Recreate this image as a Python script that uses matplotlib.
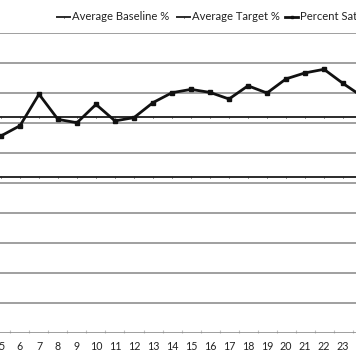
import matplotlib
matplotlib.use("Agg")
import matplotlib.pyplot as plt
from matplotlib.lines import Line2D

plt.rcParams['font.family'] = ['Lato', 'DejaVu Sans']

categories = list(range(5, 25))
percent_sat = [65.8, 69.2, 79.7, 71.3, 70.2, 76.3, 70.8, 71.9, 76.9, 80.2,
               81.3, 80.3, 78.1, 82.5, 80.1, 84.8, 86.8, 88.0, 83.3, 79.0]
avg_baseline = 52.2
avg_target = 72.0
legend_labels = ["Average Baseline %", "Average Target %", "Percent Satisfied"]

W, H = 356, 364
fig = plt.figure(figsize=(W / 100, H / 100), dpi=100)
# y: 0 at px 333.3, 100 at px 33.3 (from top)
ax = fig.add_axes([0, (H - 333.3) / H, 1, 300 / H])

ax.set_yticks(range(0, 101, 10))
ax.yaxis.grid(True, color='#858585', linewidth=1.1)
ax.set_axisbelow(True)
for s in ax.spines.values():
    s.set_visible(False)
ax.tick_params(axis='y', left=False, labelleft=False)
ax.set_xticks(categories)
ax.set_xticklabels([str(c) for c in categories], fontsize=7.7, color='#222222')
ax.tick_params(axis='x', length=0, pad=5.5)
ax.set_xticks([c - 0.5 for c in categories], minor=True)
ax.tick_params(axis='x', which='minor', direction='in', length=2, color='#c4c4c4', width=0.8)

styles = [
    dict(color='#2b2b2b', lw=1.4, marker='|', ms=2.0, mew=0.7),
    dict(color='#2b2b2b', lw=1.4, marker='|', ms=2.0, mew=0.7),
    dict(color='#111111', lw=2.0, marker='s', ms=2.2),
]
ext = [categories[0] - 1] + categories + [categories[-1] + 1]
ax.plot(ext, [avg_baseline] * len(ext), **styles[0])
ax.plot(ext, [avg_target] * len(ext), **styles[1])
ax.plot(categories, percent_sat, **styles[2])

ax.set_xlim(5 - 1 / 19, 5 + 355 / 19)
ax.set_ylim(0, 100)

# legend entries placed like the original (line start px, text start px)
legend_x = [(57, 72), (177, 192), (285, 300)]
ly = 1 - 16.7 / H
for (lx, tx), lab, st in zip(legend_x, legend_labels, styles):
    st2 = dict(st)
    st2['ms'] = st2['ms'] * 0.8
    fig.add_artist(Line2D([lx / W, (lx + 6.5) / W, (lx + 13) / W], [ly, ly, ly],
                          transform=fig.transFigure, markevery=[1], **st2))
    fig.text(tx / W, ly, lab, ha='left', va='center', fontsize=8.1, color='#222222')

fig.savefig('out.png', dpi=100)
